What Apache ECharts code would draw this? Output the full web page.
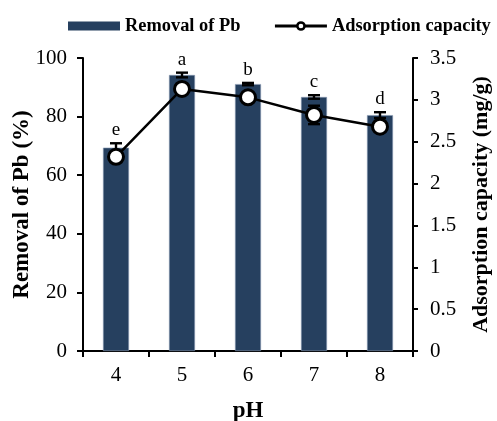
<!DOCTYPE html>
<html><head><meta charset="utf-8">
<script src="https://cdn.jsdelivr.net/npm/echarts@6/dist/echarts.min.js"></script>
<style>html,body{margin:0;padding:0;background:#fff}#c{width:497px;height:421px}</style>
</head><body><div id="c"></div>
<script>
const categories = ['4','5','6','7','8'];
const removal = [69.4, 94.2, 91.1, 86.7, 80.5];
const removalErr = [1.5, 0.8, 0.4, 0.6, 1.0];
const capacity = [2.32, 3.13, 3.03, 2.82, 2.68];
const capacityErr = [0.05, 0.05, 0.05, 0.11, 0.06];
const letters = ['e','a','b','c','d'];
const leftTicks = [0,20,40,60,80,100];
const rightTicks = [0,0.5,1,1.5,2,2.5,3,3.5];

const FONT = '"Liberation Serif","Times New Roman",serif';
function errItem(capW, withLetters){
  return function(params, api){
    const i = api.value(0);
    const v = api.value(1), e = api.value(2);
    const hi = api.coord([i, v+e]);
    const lo = api.coord([i, v-e]);
    const st = {stroke:'#000', lineWidth:2.4};
    const ch = [
      {type:'line', shape:{x1:hi[0],y1:hi[1],x2:lo[0],y2:lo[1]}, style:st},
      {type:'line', shape:{x1:hi[0]-capW,y1:hi[1],x2:hi[0]+capW,y2:hi[1]}, style:st},
      {type:'line', shape:{x1:lo[0]-capW,y1:lo[1],x2:lo[0]+capW,y2:lo[1]}, style:st}
    ];
    if (withLetters) {
      ch.push({type:'text', style:{text:letters[params.dataIndex], x:hi[0], y:hi[1]-13,
        textAlign:'center', textVerticalAlign:'middle', fontFamily:FONT, fontSize:19, fill:'#000'}});
    }
    return {type:'group', children:ch};
  };
}
const chart = echarts.init(document.getElementById('c'), null, {renderer:'canvas'});
chart.setOption({
  animation:false,
  textStyle:{fontFamily:FONT},
  legend:{
    top:12, left:63, width:440, itemGap:33, itemWidth:52, itemHeight:9,
    textStyle:{fontFamily:FONT, fontWeight:'bold', fontSize:18.4, color:'#000'},
    data:[
      {name:'Removal of Pb', icon:'rect', itemStyle:{borderWidth:0}},
      {name:'Adsorption capacity', itemStyle:{color:'#fff', borderColor:'#000', borderWidth:2.5}, lineStyle:{color:'#000', width:3}}
    ]
  },
  grid:{left:83, right:84, top:58, bottom:70, containLabel:false, outerBoundsMode:'none'},
  xAxis:{
    type:'category', data:categories,
    name:'pH', nameLocation:'middle', nameGap:49,
    nameTextStyle:{fontFamily:FONT, fontWeight:'bold', fontSize:23, color:'#000'},
    axisLine:{lineStyle:{color:'#000', width:2}},
    axisTick:{show:true, length:6, lineStyle:{color:'#000', width:2}},
    axisLabel:{fontFamily:FONT, fontSize:21, color:'#000', margin:14}
  },
  yAxis:[{
    type:'value', min:leftTicks[0], max:leftTicks[leftTicks.length-1], interval:20,
    name:'Removal of Pb (%)', nameLocation:'middle', nameGap:49, nameRotate:90, nameMoveOverlap:false,
    nameTextStyle:{fontFamily:FONT, fontWeight:'bold', fontSize:23, color:'#000'},
    axisLine:{show:true, lineStyle:{color:'#000', width:2}},
    axisTick:{show:true, length:6, lineStyle:{color:'#000', width:2}},
    axisLabel:{fontFamily:FONT, fontSize:21, color:'#000', margin:16},
    splitLine:{show:false}
  },{
    type:'value', min:rightTicks[0], max:rightTicks[rightTicks.length-1], interval:0.5,
    name:'Adsorption capacity (mg/g)', nameLocation:'middle', nameGap:57, nameRotate:90,
    nameTextStyle:{fontFamily:FONT, fontWeight:'bold', fontSize:22, color:'#000'},
    axisLine:{show:true, lineStyle:{color:'#000', width:2}},
    axisTick:{show:true, length:5, lineStyle:{color:'#000', width:2}},
    axisLabel:{fontFamily:FONT, fontSize:21, color:'#000', margin:17},
    splitLine:{show:false}
  }],
  series:[{
    name:'Removal of Pb', type:'bar', data:removal, barWidth:26, yAxisIndex:0,
    itemStyle:{color:'#26405F', borderColor:'#8a9bb3', borderWidth:0.6},
    z:2
  },{
    type:'custom', yAxisIndex:0, z:3,
    renderItem: errItem(6, true),
    data: removal.map((v,i)=>[i, v, removalErr[i]])
  },{
    name:'Adsorption capacity', type:'line', data:capacity, yAxisIndex:1,
    symbol:'circle', symbolSize:15,
    lineStyle:{color:'#000', width:2.5},
    itemStyle:{color:'#fff', borderColor:'#000', borderWidth:3},
    z:5
  },{
    type:'custom', yAxisIndex:1, z:4,
    renderItem: errItem(6, false),
    data: capacity.map((v,i)=>[i, v, capacityErr[i]])
  }]
});
</script></body></html>
